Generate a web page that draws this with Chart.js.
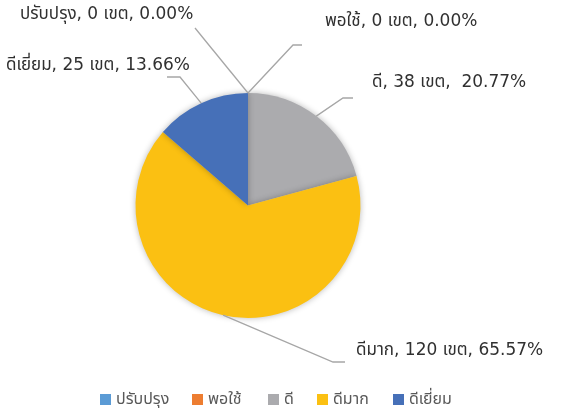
<!DOCTYPE html>
<html><head><meta charset="utf-8">
<script src="https://cdn.jsdelivr.net/npm/chart.js@4"></script>
<style>html,body{margin:0;padding:0;background:#fff;}#wrap{width:564px;height:411px;position:relative;}</style>
</head><body><div id="wrap"><canvas id="c" width="564" height="411"></canvas></div>
<script>
const categories = ['ปรับปรุง', 'พอใช้', 'ดี', 'ดีมาก', 'ดีเยี่ยม'];
const counts = [0, 0, 38, 120, 25];
const unitLabel = 'เขต';
const colors = ['#5B9BD5', '#ED7D31', '#ABABAE', '#FBC012', '#4670B8'];

const labelLayout = [
  {elbow:[195,28], end:[195,28], tx:20, ty:15},
  {elbow:[293,45], end:[302,45], tx:325, ty:22},
  {elbow:[343,98], end:[353,98], tx:372, ty:83},
  {elbow:[333,362], end:[345,362], tx:356, ty:351},
  {elbow:[180,77], end:[167,77], tx:6, ty:66}
];
const FONT = "'DejaVu Sans', 'Noto Sans Thai', Tahoma, sans-serif";
const LEGEND_FONT = "'Liberation Sans', 'Noto Sans Thai', Tahoma, sans-serif";

const labelPlugin = {
  id: 'leaderLabels',
  afterDatasetsDraw(chart) {
    const ctx = chart.ctx;
    const meta = chart.getDatasetMeta(0);
    const total = counts.reduce((a,b)=>a+b,0);
    meta.data.forEach((arc, i) => {
      const p = arc.getProps(['x','y','startAngle','endAngle','outerRadius'], true);
      const mid = (p.startAngle + p.endAngle) / 2;
      const sx = p.x + Math.cos(mid) * p.outerRadius;
      const sy = p.y + Math.sin(mid) * p.outerRadius;
      const L = labelLayout[i];
      ctx.save();
      ctx.strokeStyle = '#A6A6A6';
      ctx.lineWidth = 1.3;
      ctx.beginPath();
      ctx.moveTo(sx, sy);
      ctx.lineTo(L.elbow[0], L.elbow[1]);
      ctx.lineTo(L.end[0], L.end[1]);
      ctx.stroke();
      const pct = (counts[i] / total * 100).toFixed(2);
      const sep = i === 2 ? ',  ' : ', ';
      const txt = categories[i] + ', ' + counts[i] + ' ' + unitLabel + sep + pct + '%';
      ctx.fillStyle = '#303030';
      ctx.font = "17px " + FONT;
      ctx.textAlign = 'left';
      ctx.textBaseline = 'middle';
      ctx.fillText(txt, L.tx, L.ty);
      ctx.restore();
    });
  }
};

const legendPlugin = {
  id: 'customLegend',
  afterDraw(chart) {
    const ctx = chart.ctx;
    const xs = [100, 192, 268, 317, 393];
    const y = 400;
    ctx.save();
    ctx.font = "16px " + LEGEND_FONT;
    ctx.textBaseline = 'middle';
    ctx.textAlign = 'left';
    categories.forEach((c, i) => {
      ctx.fillStyle = colors[i];
      ctx.fillRect(xs[i], y - 6, 11, 11);
      ctx.fillStyle = '#595959';
      ctx.fillText(c, xs[i] + 16, y);
    });
    ctx.restore();
  }
};

const shadowPlugin = {
  id: 'pieShadow',
  beforeDatasetsDraw(chart) {
    const ctx = chart.ctx;
    ctx.save();
    ctx.shadowColor = 'rgba(0,0,0,0.28)';
    ctx.shadowBlur = 6;
  },
  afterDatasetsDraw(chart) {
    chart.ctx.restore();
  }
};

new Chart(document.getElementById('c'), {
  type: 'pie',
  data: {
    labels: categories,
    datasets: [{ data: counts, backgroundColor: colors, borderWidth: 0 }]
  },
  options: {
    responsive: false,
    animation: false,
    radius: 112.5,
    layout: { padding: { left: 0, right: 68, top: 0, bottom: 0 } },
    plugins: { legend: { display: false }, tooltip: { enabled: false } }
  },
  plugins: [shadowPlugin, labelPlugin, legendPlugin]
});
</script>
</body></html>
